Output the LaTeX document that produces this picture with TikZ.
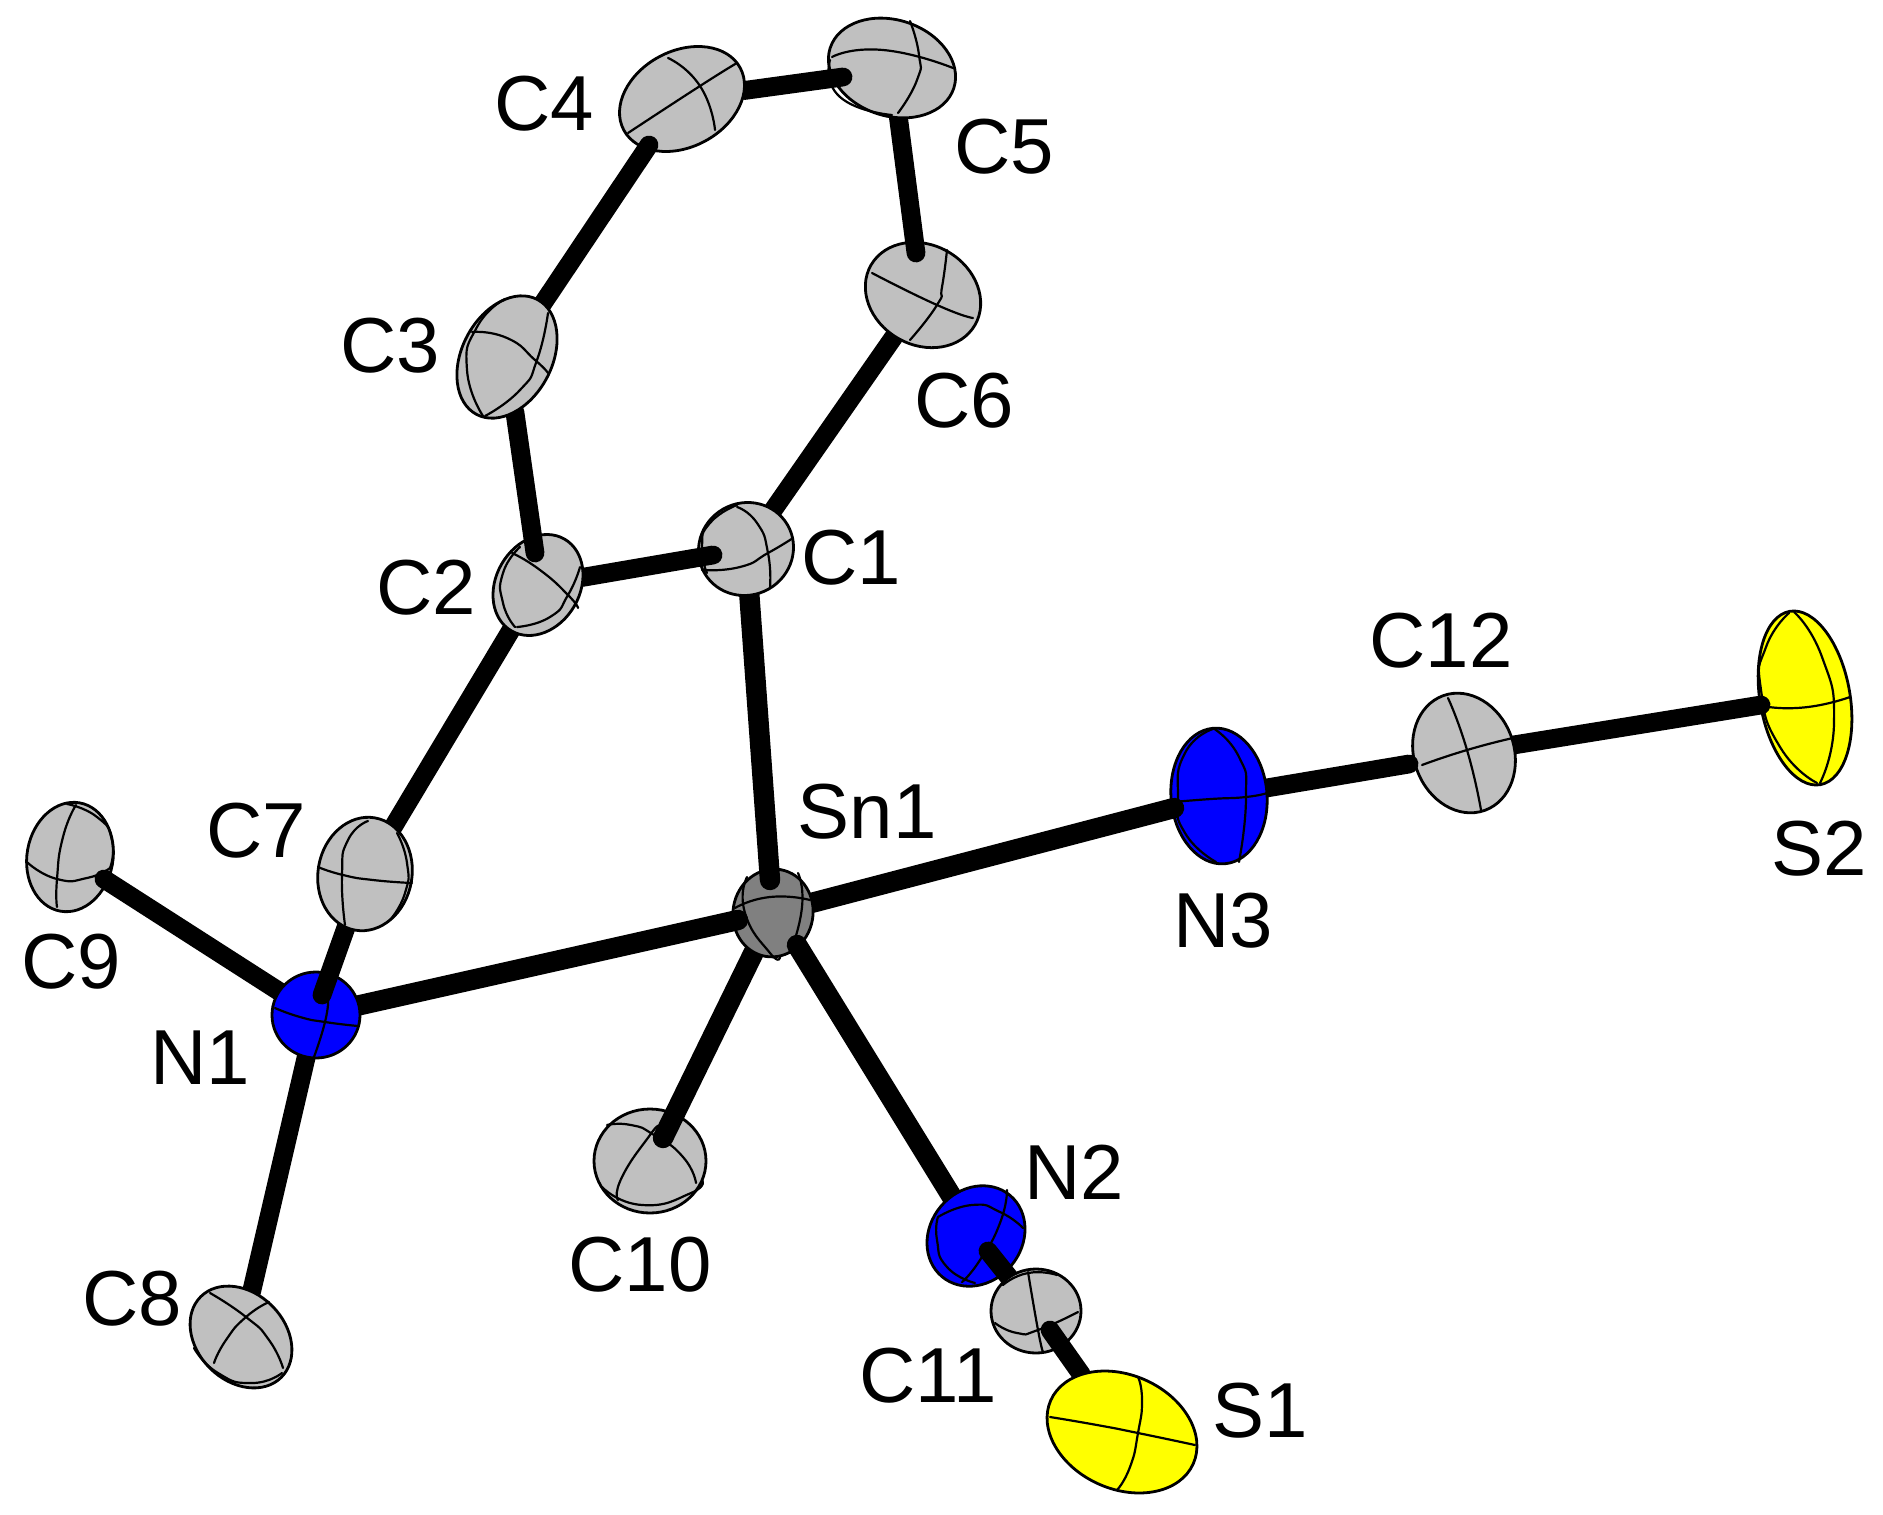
\documentclass[tikz,border=0pt]{standalone}
\usepackage{fontspec}
\setmainfont{Liberation Sans}
\usetikzlibrary{shapes.geometric}
\definecolor{carbon}{RGB}{192,192,192}
\definecolor{tin}{RGB}{128,128,128}
\definecolor{nitro}{RGB}{0,0,255}
\definecolor{sulf}{RGB}{255,255,0}
\tikzset{
  atomgeom/.style n args={3}{shape=ellipse,minimum width=#1pt,minimum height=#2pt,rotate=#3,inner sep=0pt,outer sep=0pt},
  atomface/.style={draw=black,line width=1.4pt},
  bond/.style={draw=black,line width=9.4pt,line cap=round},
  sbond/.style={draw=black,line width=10.2pt,line cap=round},
  rib/.style={draw=black,line width=1.1pt,line cap=round},
  lab/.style={font=\fontsize{39pt}{39pt}\selectfont,inner sep=0pt,outer sep=0pt,text=black,anchor=center}
}
% geometry: name, x, y, semi-axis a, semi-axis b, rotation, colour (px units; 1 px = 0.5 pt)
\newcommand\defatom[7]{%
  \node[atomgeom={#4}{#5}{#6}] (#1) at (#2,#3) {};%
  \expandafter\gdef\csname show#1\endcsname{\node[atomgeom={#4}{#5}{#6},atomface,fill=#7] (#1) at (#2,#3) {};}%
}
\newcommand\showatom[1]{\csname show#1\endcsname}
\newcommand\rb[1]{\draw[rib] plot[smooth,tension=1] coordinates {#1};}
\begin{document}
\begin{tikzpicture}[x=0.5pt,y=-0.5pt]
\useasboundingbox (0,0) rectangle (1883,1514);
\fill[white] (0,0) rectangle (1883,1514);

\defatom{C1}{746}{549}{48}{46}{30}{carbon}
\defatom{C2}{538}{585}{53}{42}{60}{carbon}
\defatom{C3}{507}{357}{65}{45}{62}{carbon}
\defatom{C4}{682}{99}{66}{48}{28}{carbon}
\defatom{C5}{892}{68}{65}{48}{-18}{carbon}
\defatom{C6}{923}{295}{60}{50}{-30}{carbon}
\defatom{C7}{365}{874}{57}{47}{80}{carbon}
\defatom{C8}{241}{1337}{57}{44}{-45}{carbon}
\defatom{C9}{70}{857}{55}{43}{80}{carbon}
\defatom{C10}{650}{1161}{56}{52}{0}{carbon}
\defatom{C11}{1036}{1311}{45}{42}{0}{carbon}
\defatom{C12}{1464}{753}{61}{50}{-70}{carbon}
\defatom{Sn1}{773}{913}{44}{40}{80}{tin}
\defatom{N1}{316}{1015}{44}{43}{0}{nitro}
\defatom{N2}{976}{1236}{53}{46}{50}{nitro}
\defatom{N3}{1219}{796}{68}{48}{-85}{nitro}
\defatom{S1}{1122}{1432}{78}{57}{-24}{sulf}
\defatom{S2}{1805}{698}{88}{45}{-80}{sulf}

% visible bond ends that lie on top of an atom
\coordinate (tipS2) at (1761,705);
\coordinate (tipC12) at (1409,764);
\coordinate (tipN3) at (1174,808);
\coordinate (tipC10) at (663,1138);
\coordinate (tipC9) at (104,879);
\coordinate (tipSnC1) at (770,880);
\coordinate (tipSnN1) at (738,920);
\coordinate (tipSnN2) at (797,945);
\coordinate (tipN1) at (322,995);
\coordinate (tipC1) at (713,555);
\coordinate (tipC2) at (535,553);
\coordinate (tipC6) at (916,253);
\coordinate (tipC5) at (843,77);
\coordinate (tipC4) at (649,145);
\coordinate (tipN2) at (988,1251);
\coordinate (tipC11) at (1050,1330);

% S2 - C12 - N3 chain
\showatom{S2}
\rb{(1769,707)(1808,707)(1850,697)}
\rb{(1794,612)(1822,657)(1834,723)(1820,783)}
\rb{(1789,613)(1766,647)(1761,690)(1780,747)(1817,783)}
\draw[bond] (tipS2) -- (C12);
\showatom{C12}
\rb{(1422,765)(1467,750)(1513,738)}
\rb{(1448,698)(1467,750)(1481,810)}
\draw[bond] (tipC12) -- (N3);
\showatom{N3}
\rb{(1173,802)(1211,799)(1246,797)(1267,793)}
\rb{(1213,728)(1239,757)(1246,797)(1239,862)}
\rb{(1213,729)(1185,753)(1178,797)(1185,833)(1216,862)}
\draw[sbond] (tipN3) -- (Sn1);

% C10
\showatom{C10}
\rb{(607,1125)(631,1125)(654,1135)(683,1157)(696,1183)}
\rb{(618,1200)(622,1177)(650,1135)(657,1128)}
\rb{(602,1187)(642,1205)(691,1193)(702,1180)}
\draw[sbond] (tipC10) -- (Sn1);

% C9, C8
\showatom{C9}
\rb{(28,863)(57,879)(87,878)(110,868)}
\rb{(76,805)(63,837)(57,879)(57,907)}
\rb{(67,804)(97,817)(112,840)(110,868)}
\draw[bond] (tipC9) -- (N1);
\draw[bond] (C8) -- (N1);
\showatom{C8}
\rb{(210,1293)(246,1317)(269,1340)(283,1368)}
\rb{(214,1363)(226,1340)(246,1317)(269,1302)}
\rb{(194,1348)(218,1373)(252,1383)(282,1373)}

% Sn1
\showatom{Sn1}
\rb{(735,908)(770,897)(810,900)}
\rb{(747,877)(745,913)(770,953)(780,957)}
\rb{(798,873)(802,907)(790,953)}
\draw[sbond] (tipSnN1) -- (N1);
\draw[sbond] (tipSnC1) -- (C1);
\draw[sbond] (tipSnN2) -- (N2);

% N1, C7
\showatom{N1}
\rb{(275,1008)(300,1017)(325,1022)(358,1026)}
\rb{(328,1000)(325,1022)(314,1057)}
\draw[bond] (tipN1) -- (C7);
\draw[bond] (C2) -- (C7);
\showatom{C7}
\rb{(318,867)(343,875)(373,880)(412,883)}
\rb{(368,821)(348,840)(342,875)(345,925)}
\rb{(397,833)(407,863)(405,893)(390,920)}

% ring
\draw[bond] (C1) -- (C6);
\showatom{C1}
\rb{(702,570)(740,567)(768,553)(793,538)}
\rb{(737,507)(757,523)(768,553)(770,588)}
\rb{(737,505)(710,523)(702,547)(707,573)}
\draw[bond] (tipC1) -- (C2);
\showatom{C2}
\rb{(512,553)(540,570)(568,595)(578,608)}
\rb{(517,627)(550,617)(568,595)(580,567)}
\rb{(520,547)(503,573)(503,603)(515,627)}
\draw[bond] (tipC2) -- (C3);
\showatom{C6}
\rb{(872,273)(937,305)(973,318)}
\rb{(947,250)(942,287)(937,305)(910,340)}
\draw[bond] (tipC6) -- (C5);
\showatom{C5}
\rb{(832,57)(883,50)(953,68)}
\rb{(910,21)(919,55)(917,80)(898,113)}
\rb{(830,60)(840,97)(892,115)}
\draw[bond] (tipC5) -- (C4);
\showatom{C4}
\rb{(628,133)(700,86)(737,63)}
\rb{(668,58)(700,86)(715,130)}
\draw[bond] (tipC4) -- (C3);
\showatom{C3}
\rb{(472,332)(507,338)(535,360)(548,373)}
\rb{(485,416)(520,390)(537,360)(548,313)}
\rb{(505,299)(477,327)(467,370)(483,416)}

% N2, C11, S1
\showatom{N2}
\rb{(938,1217)(972,1205)(1000,1212)(1023,1228)}
\rb{(1007,1190)(1000,1223)(980,1260)(962,1282)}
\rb{(938,1217)(937,1240)(947,1267)(975,1283)}
\draw[bond] (tipN2) -- (C11);
\showatom{C11}
\rb{(995,1323)(1017,1333)(1038,1330)(1078,1312)}
\rb{(1028,1272)(1038,1330)(1043,1352)}
\rb{(1003,1285)(1028,1273)(1057,1275)}
\draw[bond] (tipC11) -- (S1);
\showatom{S1}
\rb{(1050,1417)(1097,1425)(1138,1433)(1195,1445)}
\rb{(1138,1377)(1142,1400)(1138,1433)(1130,1467)(1117,1490)}

% labels
\node[lab] (lC1) at (851,558) {C1};
\node[lab] (lC2) at (426,588) {C2};
\node[lab] (lC3) at (390,346) {C3};
\node[lab] (lC4) at (544,104) {C4};
\node[lab] (lC5) at (1004,147) {C5};
\node[lab] (lC6) at (964,401) {C6};
\node[lab] (lC7) at (256,831) {C7};
\node[lab] (lC8) at (132,1299) {C8};
\node[lab] (lC9) at (71,962) {C9};
\node[lab] (lC10) at (640,1265) {C10};
\node[lab] (lC11) at (928,1376) {C11};
\node[lab] (lC12) at (1441,641) {C12};
\node[lab] (lSn1) at (867,812) {Sn1};
\node[lab] (lN1) at (200,1058) {N1};
\node[lab] (lN2) at (1074,1172) {N2};
\node[lab] (lN3) at (1223,921) {N3};
\node[lab] (lS1) at (1260,1411) {S1};
\node[lab] (lS2) at (1819,849) {S2};
\end{tikzpicture}
\end{document}
